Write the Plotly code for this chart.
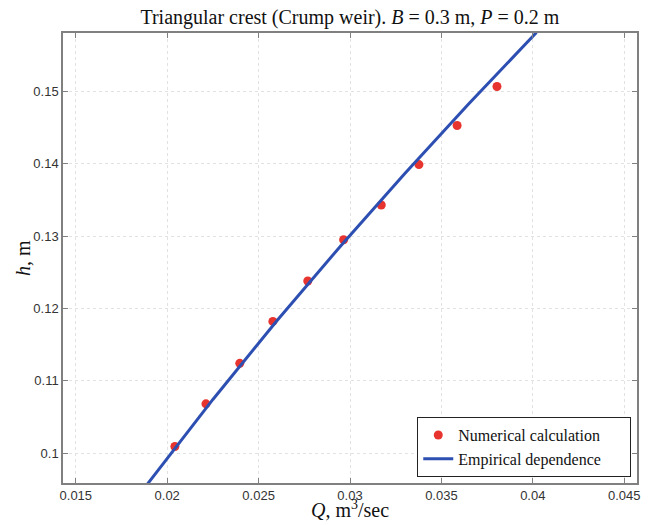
import plotly.graph_objects as go

# Numerical calculation points
q_num = [0.02042, 0.02212, 0.02397, 0.02578, 0.02769, 0.02965, 0.03171, 0.03377, 0.03586, 0.03804]
h_num = [0.1009, 0.1068, 0.1124, 0.1182, 0.1238, 0.1295, 0.1343, 0.1399, 0.1453, 0.1507]

# Empirical dependence
q_emp = [0.0189, 0.0225, 0.0260, 0.0295, 0.0330, 0.0365, 0.0402]
h_emp = [0.09564, 0.10741, 0.11829, 0.12868, 0.13868, 0.14832, 0.15817]

x_ticks = [0.015, 0.02, 0.025, 0.03, 0.035, 0.04, 0.045]
x_labels = ["0.015", "0.02", "0.025", "0.03", "0.035", "0.04", "0.045"]
y_ticks = [0.10, 0.11, 0.12, 0.13, 0.14, 0.15]
y_labels = ["0.1", "0.11", "0.12", "0.13", "0.14", "0.15"]

serif = "Liberation Serif, Times New Roman, serif"
sans = "Liberation Sans, Arial, sans-serif"
pad = "\u00a0" * 6

fig = go.Figure()
fig.add_trace(go.Scatter(
    x=q_num, y=h_num, mode="markers", name="Numerical calculation" + pad,
    marker=dict(color="#e8342e", size=9, line=dict(width=0)),
))
fig.add_trace(go.Scatter(
    x=q_emp, y=h_emp, mode="lines", name="Empirical dependence" + pad,
    line=dict(color="#2d4fb2", width=3),
))

axis_common = dict(
    showline=True, linecolor="#808080", linewidth=1.5, mirror="ticks",
    ticks="inside", ticklen=5, tickcolor="#808080", tickwidth=1,
    showgrid=True, gridcolor="#e2e2e2", griddash="dot", gridwidth=1,
    zeroline=False, automargin=False,
    tickfont=dict(family=sans, size=13, color="#333333"),
)

fig.update_layout(
    width=651, height=525,
    margin=dict(l=63, r=14, t=33, b=42, autoexpand=False),
    paper_bgcolor="white", plot_bgcolor="white",
    title=dict(
        text="Triangular crest (Crump weir). <i>B</i> = 0.3 m, <i>P</i> = 0.2 m",
        font=dict(family=serif, size=20, color="#111111"),
        x=0.5375, xanchor="center", y=1 - 17 / 525, yanchor="middle",
    ),
    xaxis=dict(
        range=[0.0143, 0.0457], tickvals=x_ticks, ticktext=x_labels,
        **axis_common,
    ),
    yaxis=dict(
        range=[0.09585, 0.1581], tickvals=y_ticks, ticktext=y_labels,
        **axis_common,
    ),
    legend=dict(
        x=0.99, y=0.013, xanchor="right", yanchor="bottom",
        bgcolor="white", bordercolor="#222222", borderwidth=1,
        font=dict(family=serif, size=16, color="#111111"),
        tracegroupgap=0,
    ),
    showlegend=True,
    annotations=[
        dict(
            text="<i>Q</i>, m<sup>3</sup>/sec", xref="paper", yref="paper",
            x=0.5, y=-0.058, xanchor="center", yanchor="middle", showarrow=False,
            font=dict(family=serif, size=20, color="#111111"),
        ),
        dict(
            text="<i>h</i>, m", xref="paper", yref="paper", textangle=-90,
            x=-0.0697, y=0.5, xanchor="center", yanchor="middle", showarrow=False,
            font=dict(family=serif, size=20, color="#111111"),
        ),
    ],
)

fig.write_html(
    "out.html",
    config={"displayModeBar": False},
    post_script="document.body.style.margin='0';document.body.style.overflow='hidden';",
)
